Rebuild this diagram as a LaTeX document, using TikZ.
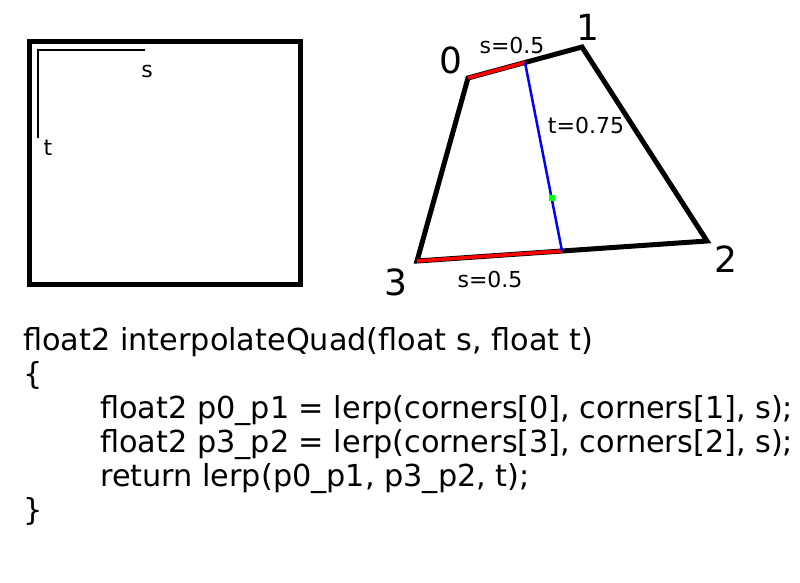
\documentclass[tikz,border=0pt]{standalone}
\usepackage{fontspec}
\setmainfont{DejaVu Sans}
\usetikzlibrary{calc}

\tikzset{
    codeline/.style={anchor=base west, inner sep=0pt, font=\fontsize{30.3}{34}\selectfont},
    corner/.style={inner sep=0pt, font=\fontsize{36}{40}\selectfont},
    param/.style={inner sep=0pt, font=\fontsize{22}{26}\selectfont},
    edge/.style={line width=5pt},
}

\begin{document}
\begin{tikzpicture}[x=1pt,y=-1pt]
        \useasboundingbox (0,0) rectangle (800,582);

        % unit square with s and t axes
        \draw[edge] (29.5,41.5) rectangle (300,284.5);
        \coordinate (origin) at (37.5,49.5);
        \coordinate (saxis) at (145,49.5);
        \coordinate (taxis) at (37.5,138);
        \draw[line width=2pt] (taxis) -- (origin) -- (saxis);
        \node[param] (slabel) at (147,71) {s};
        \node[param] (tlabel) at (48,148) {t};

        % the quad
        \coordinate (c0) at (468,78);
        \coordinate (c1) at (582,47);
        \coordinate (c2) at (707,241);
        \coordinate (c3) at (417,261);
        \coordinate (p0p1) at ($(c0)!0.5!(c1)$);
        \coordinate (p3p2) at ($(c3)!0.5!(c2)$);
        \coordinate (result) at ($(p0p1)!0.72!(p3p2)$);
        \draw[edge] (c0) -- (c1) -- (c2) -- (c3) -- cycle;
        \draw[red, line width=3.5pt] (c0) -- (p0p1);
        \draw[red, line width=3.5pt] (c3) -- (p3p2);
        \draw[blue, line width=2.5pt] (p0p1) -- (p3p2);
        \fill[green] ($(result)+(-3,-3)$) rectangle ($(result)+(3,3)$);

        \node[corner] (n0) at (451,60) {0};
        \node[corner] (n1) at (588,27) {1};
        \node[corner] (n2) at (726,259) {2};
        \node[corner] (n3) at (396,282) {3};
        \node[param] (stop) at (512,45) {s=0.5};
        \node[param] (tmid) at (586,125) {t=0.75};
        \node[param] (sbot) at (490,279) {s=0.5};

        % the code
        \node[codeline] (sig) at (23,350) {float2 interpolateQuad(float s, float t)};
        \node[codeline] (open) at (23,384) {\{};
        \node[codeline] (lerpa) at (100,418) {float2 p0\_p1 = lerp(corners[0], corners[1], s);};
        \node[codeline] (lerpb) at (100,452) {float2 p3\_p2 = lerp(corners[3], corners[2], s);};
        \node[codeline] (ret) at (100,486) {return lerp(p0\_p1, p3\_p2, t);};
        \node[codeline] (close) at (23,520) {\}};
    \end{tikzpicture}
\end{document}
